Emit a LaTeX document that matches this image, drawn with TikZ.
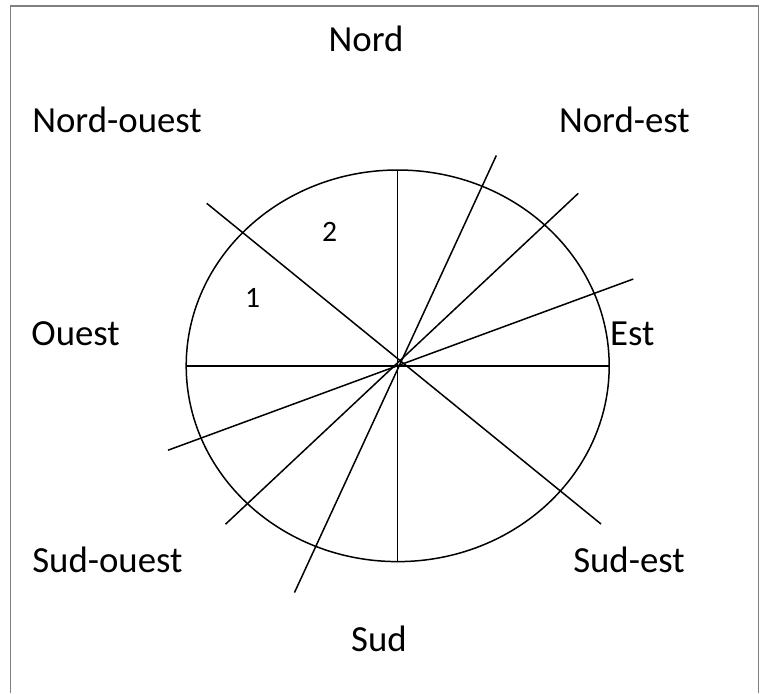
\documentclass[tikz,border=0pt]{standalone}
\usepackage{fontspec}
\setmainfont{Carlito}
\begin{document}
\begin{tikzpicture}[x=0.5pt,y=-0.5pt,line width=0.75pt,
  dir/.style={inner sep=0pt, anchor=base, font=\fontsize{18.4}{22}\selectfont},
  num/.style={inner sep=0pt, anchor=base, font=\fontsize{14.8}{18}\selectfont}]
\useasboundingbox (0,0) rectangle (764,693);
% cadre
\draw[line width=0.65pt, gray] (10.7,693) -- (10.7,6) -- (758.7,6) -- (758.7,693);

% rose
\draw (397.7,365.8) ellipse (105.75pt and 97.9pt);
\draw (397.7,170) -- (397.7,562);
\draw (186,365.8) -- (609,365.8);
\draw (206.7,203.3) -- (601,524);
\draw (496.3,155.5) -- (294.5,592.5);
\draw (578.3,193.3) -- (225.5,524.2);
\draw (633.3,279) -- (168,450.2);

% directions
\node[dir] (nord) at (366,51.7) {Nord};
\node[dir] (nordouest) at (117,132) {Nord-ouest};
\node[dir] (nordest) at (624.4,132) {Nord-est};
\node[dir] (ouest) at (75.6,345) {Ouest};
\node[dir] (est) at (632.2,345) {Est};
\node[dir] (sudouest) at (107.4,572) {Sud-ouest};
\node[dir] (sudest) at (629,572) {Sud-est};
\node[dir] (sud) at (379,651) {Sud};

\node[num] (un) at (252.5,307.3) {1};
\node[num] (deux) at (329.7,241.7) {2};
\end{tikzpicture}
\end{document}
